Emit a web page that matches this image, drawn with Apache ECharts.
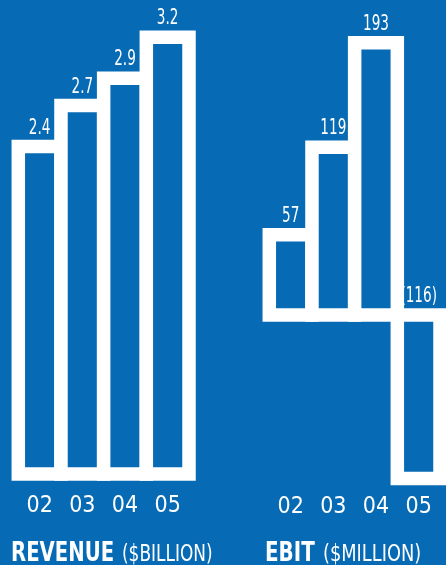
<!DOCTYPE html>
<html>
<head>
<meta charset="utf-8">
<script src="https://cdn.jsdelivr.net/npm/echarts@6/dist/echarts.min.js"></script>
<style>
  html, body { margin: 0; padding: 0; background: #066ab4; }
  #chart { width: 446px; height: 565px; }
</style>
</head>
<body>
<div id="chart"></div>
<script>
var years = ['02', '03', '04', '05'];
var revenue = [2.4, 2.7, 2.9, 3.2];   // $ billion
var ebit = [57, 119, 193, -116];      // $ million

var blue = '#066ab4';
var font = '"DejaVu Sans Condensed", sans-serif';
var edge = 13.5; // white outline, centred on the bar edges

// outlined bar: white outer box + blue inner box, so neighbours share one outline
function outlinedBar(fmt) {
  return function (params, api) {
    var v = api.value(1);
    var top = api.coord([api.value(0), v]);
    var base = api.coord([api.value(0), 0]);
    var bw = api.size([1, 0])[0];
    var h = edge / 2;
    var x0 = top[0] - bw / 2;
    var y0 = Math.min(top[1], base[1]);
    var y1 = Math.max(top[1], base[1]);
    return {
      type: 'group',
      children: [
        {
          type: 'rect',
          shape: { x: x0 - h, y: y0 - h, width: bw + edge, height: y1 - y0 + edge },
          style: { fill: '#fff' }
        },
        {
          type: 'rect',
          shape: { x: x0 + h, y: y0 + h, width: bw - edge, height: y1 - y0 - edge },
          style: { fill: blue }
        },
        {
          // value label, squeezed to look condensed, kept above the neighbours
          type: 'text',
          x: top[0],
          y: y0 - h - 1,
          scaleX: 0.72,
          z2: 10,
          style: {
            text: fmt(v),
            fill: '#fff',
            font: '21px ' + font,
            align: 'center',
            verticalAlign: 'bottom'
          }
        }
      ]
    };
  };
}

function barSeries(idx, values, fmt) {
  return {
    type: 'custom',
    xAxisIndex: idx,
    yAxisIndex: idx,
    data: values.map(function (v, i) { return [i, v]; }),
    encode: { x: 0, y: 1 },
    renderItem: outlinedBar(fmt),
    silent: true,
    animation: false
  };
}

// title pieces, squeezed horizontally to look like a condensed face
function titleText(x, text, bold, size, sx) {
  return {
    type: 'text',
    x: x,
    y: 567,
    scaleX: sx,
    style: {
      text: text,
      fill: '#fff',
      font: (bold ? 'bold ' : '') + size + 'px ' + font,
      verticalAlign: 'bottom'
    }
  };
}

var chart = echarts.init(document.getElementById('chart'));
var option = {
  backgroundColor: blue,
  grid: [
    { left: 18.3, right: 257, top: 9.9, bottom: 91, outerBoundsMode: 'none' },
    { left: 269.3, right: 6, top: 33, bottom: 80.8, outerBoundsMode: 'none' }
  ],
  xAxis: [0, 1].map(function (i) {
    return {
      type: 'category',
      gridIndex: i,
      data: years,
      axisLine: { show: false, onZero: false },
      axisTick: { show: false },
      axisLabel: {
        color: '#fff',
        fontFamily: font,
        fontSize: 23,
        margin: i === 0 ? 21 : 11
      }
    };
  }),
  yAxis: [
    { type: 'value', gridIndex: 0, min: 0, max: 3.4, show: false },
    { type: 'value', gridIndex: 1, min: -120, max: 200, show: false }
  ],
  graphic: [
    titleText(11, 'REVENUE', true, 27, 0.81),
    titleText(122, '($BILLION)', false, 23, 0.82),
    titleText(265, 'EBIT', true, 27, 0.82),
    titleText(323, '($MILLION)', false, 23, 0.86)
  ],
  series: [
    barSeries(0, revenue, function (v) { return v.toFixed(1); }),
    barSeries(1, ebit, function (v) {
      return v < 0 ? '(' + (-v) + ')' : String(v);
    })
  ]
};
chart.setOption(option);
</script>
</body>
</html>
